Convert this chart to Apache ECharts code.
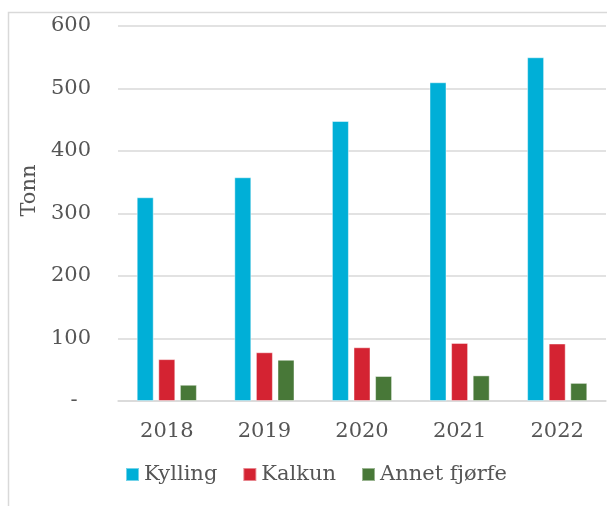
<!DOCTYPE html>
<html>
	<head>
		<meta charset="UTF-8">
		<title></title>
		<script src="https://cdn.jsdelivr.net/npm/echarts@6/dist/echarts.min.js"></script>
		<style type="text/css">
			html, body {
				margin: 0;
				padding: 0;
				background: #fff;
			}
			#chart {
				width: 607px;
				height: 506px;
			}
		</style>
	</head>
	<body>
		<div id="chart"></div>
		<script type="text/javascript">
			var years = ['2018', '2019', '2020', '2021', '2022'];
			var kylling = [326, 358, 448, 510, 550];
			var kalkun = [67, 78, 86, 93, 92];
			var annet = [26, 66, 40, 41, 29];
			var seriesNames = ['Kylling', 'Kalkun', 'Annet fjørfe'];
			var seriesColors = ['#00AFD7', '#D42332', '#487838'];

			var serif = '"DejaVu Serif", Georgia, serif';
			var textColor = '#555555';

			function bar(name, data, color) {
				return {
					name: name,
					type: 'bar',
					data: data,
					barWidth: 17,
					barGap: '27%',
					itemStyle: {
						color: color,
						borderColor: 'rgba(255,255,255,0.45)',
						borderWidth: 1
					}
				};
			}

			var myChart = echarts.init(document.getElementById('chart'));
			myChart.setOption({
				animation: false,
				graphic: [{
					type: 'rect',
					shape: { x: 8.5, y: 12.5, width: 700, height: 600 },
					style: { fill: 'none', stroke: '#d9d9d9', lineWidth: 1.5 },
					silent: true
				}],
				grid: {
					left: 118,
					right: 1,
					top: 26,
					bottom: 105
				},
				legend: {
					left: 125,
					top: 464,
					padding: 0,
					itemWidth: 13,
					itemHeight: 13,
					itemGap: 25,
					icon: 'rect',
					textStyle: {
						fontFamily: serif,
						fontSize: 21,
						color: textColor
					},
					data: seriesNames
				},
				xAxis: {
					type: 'category',
					data: years,
					axisLine: { lineStyle: { color: '#d9d9d9', width: 1.5 } },
					axisTick: { show: false },
					axisLabel: {
						margin: 20,
						fontFamily: serif,
						fontSize: 21,
						color: textColor
					}
				},
				yAxis: {
					type: 'value',
					min: 0,
					max: 600,
					interval: 100,
					name: 'Tonn',
					nameLocation: 'middle',
					nameGap: 78,
					nameTextStyle: {
						fontFamily: serif,
						fontSize: 21,
						color: textColor,
						padding: [0, 0, 0, 46]
					},
					axisLine: { show: false },
					axisTick: { show: false },
					splitLine: { lineStyle: { color: '#d9d9d9', width: 1.5 } },
					axisLabel: {
						margin: 27,
						fontFamily: serif,
						fontSize: 21,
						color: textColor,
						formatter: function (v) {
							return v === 0 ? '-  ' : String(v);
						}
					}
				},
				series: [
					bar(seriesNames[0], kylling, seriesColors[0]),
					bar(seriesNames[1], kalkun, seriesColors[1]),
					bar(seriesNames[2], annet, seriesColors[2])
				]
			});
		</script>
	</body>
</html>
